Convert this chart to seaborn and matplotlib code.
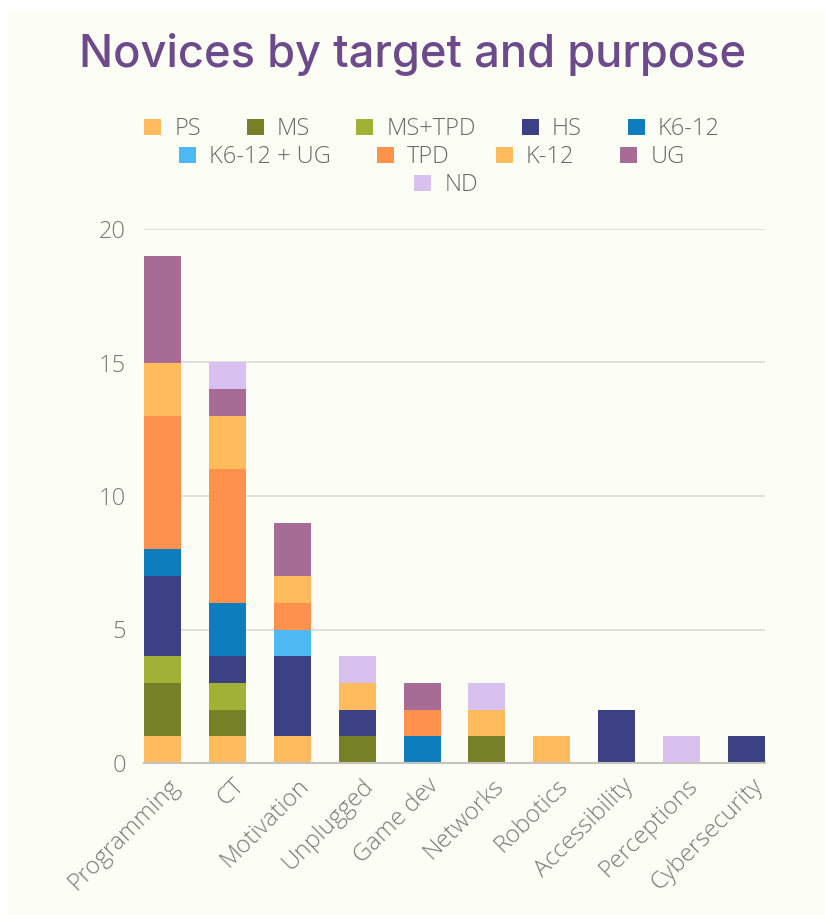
import matplotlib
matplotlib.use("Agg")
import matplotlib.pyplot as plt
import matplotlib.transforms as mtransforms
from matplotlib.patches import Patch, Rectangle
import seaborn as sns
import pandas as pd
import numpy as np

categories = ["Programming", "CT", "Motivation", "Unplugged", "Game dev",
              "Networks", "Robotics", "Accessibility", "Perceptions", "Cybersecurity"]
series_names = ["PS", "MS", "MS+TPD", "HS", "K6-12", "K6-12 + UG", "TPD", "K-12", "UG", "ND"]
PS = [1, 1, 1, 0, 0, 0, 1, 0, 0, 0]
MS = [2, 1, 0, 1, 0, 1, 0, 0, 0, 0]
MS_TPD = [1, 1, 0, 0, 0, 0, 0, 0, 0, 0]
HS = [3, 1, 3, 1, 0, 0, 0, 2, 0, 1]
K6_12 = [1, 2, 0, 0, 1, 0, 0, 0, 0, 0]
K6_12_UG = [0, 0, 1, 0, 0, 0, 0, 0, 0, 0]
TPD = [5, 5, 1, 0, 1, 0, 0, 0, 0, 0]
K_12 = [2, 2, 1, 1, 0, 1, 0, 0, 0, 0]
UG = [4, 1, 2, 0, 1, 0, 0, 0, 0, 0]
ND = [0, 1, 0, 1, 0, 1, 0, 0, 1, 0]
y_ticks = [0, 5, 10, 15, 20]

series_values = [PS, MS, MS_TPD, HS, K6_12, K6_12_UG, TPD, K_12, UG, ND]
colors = ["#FFBB5C", "#768127", "#A1B135", "#3B4182", "#0E7DBE",
          "#4DB8F2", "#FF914D", "#FFBB5C", "#A66C96", "#D9C1EF"]

sns.set_theme(style="white")
plt.rcParams["font.family"] = ["Open Sans", "DejaVu Sans"]

BG = "#FCFDF4"
fig = plt.figure(figsize=(8.25, 9.15), dpi=100, facecolor="white")
fig.patches.append(Rectangle((8 / 825, 0), 1 - 8 / 825, 1 - 10 / 915,
                             transform=fig.transFigure, facecolor=BG,
                             edgecolor="none", zorder=-5))

ax = fig.add_axes([144 / 825, (915 - 763) / 915, 621 / 825, (763 - 229) / 915])
ax.set_zorder(2)
ax.patch.set_alpha(0)

bottom = np.zeros(len(categories))
for name, vals, col in zip(series_names, series_values, colors):
    df = pd.DataFrame({"topic": categories, "value": vals})
    sns.barplot(data=df, x="topic", y="value", order=categories, color=col,
                bottom=bottom, width=0.57, ax=ax, saturation=1,
                edgecolor="none", linewidth=0, zorder=3)
    bottom = bottom + np.array(vals)

ax.set_xlim(-0.285, len(categories) - 1 + 0.285)
ax.set_ylim(0, 20)
ax.set_yticks(y_ticks)
ax.set_yticklabels([str(t) for t in y_ticks], fontsize=17, color="#7a7a7a",
                   fontweight="light")
ax.set_xlabel("")
ax.set_ylabel("")
ax.grid(axis="y", color="#dcdcd2", linewidth=1.2, zorder=0)
ax.grid(axis="x", visible=False)
ax.set_axisbelow(True)
for s in ["left", "right", "top"]:
    ax.spines[s].set_visible(False)
ax.spines["bottom"].set_color("#c4c4bc")
ax.spines["bottom"].set_linewidth(1.5)
ax.spines["bottom"].set_zorder(4)
ax.tick_params(axis="y", length=0, pad=13)
ax.tick_params(axis="x", length=0, pad=14)

ax.set_xticks(range(len(categories)))
ax.set_xticklabels(categories, rotation=45, ha="right", va="center",
                   rotation_mode="anchor", fontsize=17.5, color="#7a7a7a",
                   fontweight="light")
offset = mtransforms.ScaledTranslation(13 / 100, 0, fig.dpi_scale_trans)
for lbl in ax.get_xticklabels():
    lbl.set_transform(lbl.get_transform() + offset)

fig.text(0.5, 1 - 55 / 915, "Novices by target and purpose", ha="center",
         va="center", fontsize=32.6, color="#6C4A8C", fontweight="medium",
         family=["Inter", "DejaVu Sans"])

handles = [Patch(facecolor=c, edgecolor="none") for c in colors]
rows = [(0, 5, 432, 129), (5, 9, 432, 157), (9, 10, 446, 185)]
for a, b, cx, cy in rows:
    leg = fig.legend(handles[a:b], series_names[a:b], loc="center",
                     bbox_to_anchor=(cx / 825, 1 - cy / 915), ncol=b - a,
                     frameon=False, fontsize=17, handlelength=0.72,
                     handleheight=0.64, handletextpad=0.55, columnspacing=1.95,
                     borderpad=0, borderaxespad=0)
    for t in leg.get_texts():
        t.set_color("#6a6a6a")
        t.set_fontweight("light")

fig.savefig("out.png", dpi=100, facecolor="white")
